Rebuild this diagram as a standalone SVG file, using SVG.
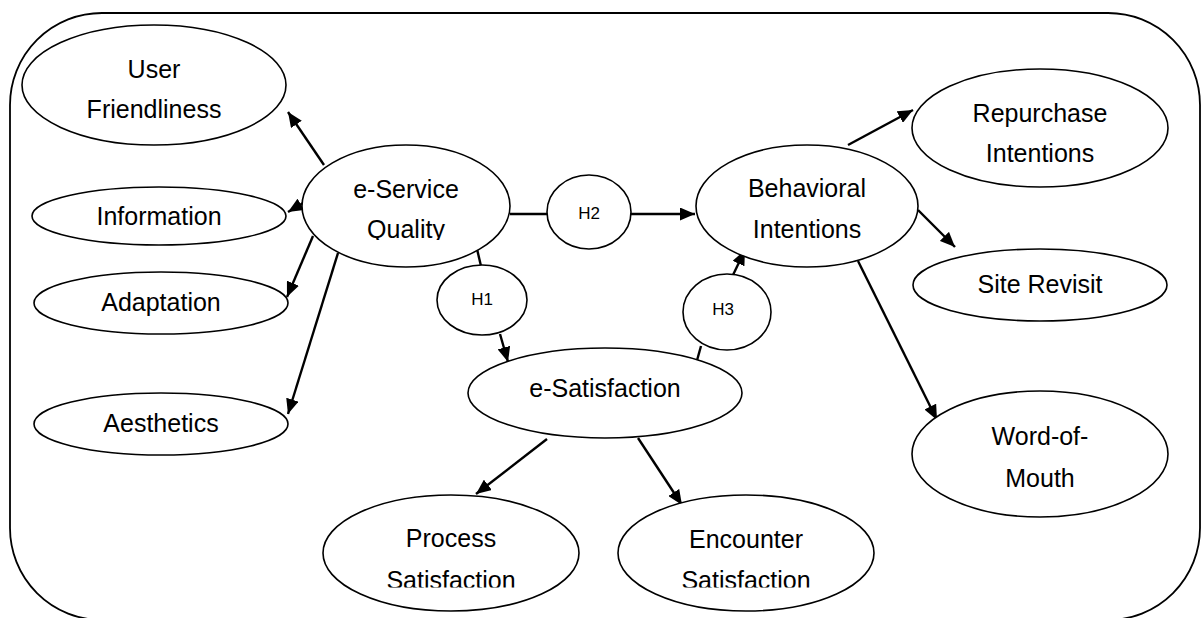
<svg xmlns="http://www.w3.org/2000/svg" width="1203" height="618" viewBox="0 0 1203 618">
<style>
.n{fill:#fff;stroke:#000;stroke-width:1.6}
.t{font-family:"Liberation Sans",Arial,sans-serif;font-size:25px;fill:#000;text-anchor:middle}
.h{font-family:"Liberation Sans",Arial,sans-serif;font-size:17px;fill:#000;text-anchor:middle}
.c{stroke:#000;stroke-width:2.4;fill:none}
.a{stroke:#000;stroke-width:2.4;fill:none;marker-end:url(#ah)}
</style>
<defs>
<marker id="ah" markerUnits="userSpaceOnUse" markerWidth="15" markerHeight="13" refX="15" refY="6.5" orient="auto">
<path d="M0,0 L15,6.5 L0,13 z" fill="#000"/>
</marker>
<clipPath id="cq"><rect x="300" y="150" width="220" height="90"/></clipPath>
<clipPath id="cp"><rect x="320" y="500" width="560" height="87.5"/></clipPath>
</defs>
<rect x="10" y="13" width="1190" height="607" rx="92" ry="92" fill="none" stroke="#000" stroke-width="1.8"/>
<g id="connectors">
<line class="a" x1="324" y1="165" x2="288" y2="112"/>
<line class="a" x1="303" y1="203" x2="288" y2="212"/>
<line class="a" x1="313" y1="236" x2="287" y2="297"/>
<line class="a" x1="338" y1="253" x2="288" y2="414"/>
<line class="c" x1="510" y1="214" x2="547" y2="214"/>
<line class="a" x1="631" y1="214" x2="695" y2="214"/>
<line class="c" x1="477" y1="249" x2="481" y2="266"/>
<line class="a" x1="500" y1="334" x2="508" y2="362"/>
<line class="c" x1="696" y1="364" x2="701" y2="346"/>
<line class="a" x1="733" y1="275" x2="745" y2="250"/>
<line class="a" x1="848" y1="145" x2="913" y2="110"/>
<line class="a" x1="918" y1="210" x2="955" y2="247"/>
<line class="a" x1="858" y1="261" x2="937" y2="420"/>
<line class="a" x1="547" y1="439" x2="476" y2="494"/>
<line class="a" x1="638" y1="438" x2="682" y2="505"/>
</g>
<g id="user-friendliness">
<ellipse class="n" cx="154" cy="85" rx="132" ry="60"/>
<text class="t" x="154" y="78">User</text>
<text class="t" x="154" y="118">Friendliness</text>
</g>
<g id="information">
<ellipse class="n" cx="159" cy="216" rx="127" ry="29"/>
<text class="t" x="159" y="225">Information</text>
</g>
<g id="adaptation">
<ellipse class="n" cx="161" cy="303" rx="127" ry="31"/>
<text class="t" x="161" y="311">Adaptation</text>
</g>
<g id="aesthetics">
<ellipse class="n" cx="161" cy="424" rx="127" ry="31"/>
<text class="t" x="161" y="432">Aesthetics</text>
</g>
<g id="e-service-quality">
<ellipse class="n" cx="406" cy="206" rx="104" ry="61"/>
<text class="t" x="406" y="198">e-Service</text>
<text class="t" x="406" y="238" clip-path="url(#cq)">Quality</text>
</g>
<g id="h2">
<ellipse class="n" cx="589" cy="212" rx="42" ry="37"/>
<text class="h" x="589" y="219">H2</text>
</g>
<g id="h1">
<ellipse class="n" cx="482" cy="300" rx="45" ry="35"/>
<text class="h" x="482" y="305">H1</text>
</g>
<g id="h3">
<ellipse class="n" cx="727" cy="312" rx="44" ry="38"/>
<text class="h" x="723" y="315">H3</text>
</g>
<g id="behavioral-intentions">
<ellipse class="n" cx="807" cy="206" rx="111" ry="61"/>
<text class="t" x="807" y="197">Behavioral</text>
<text class="t" x="807" y="238">Intentions</text>
</g>
<g id="repurchase-intentions">
<ellipse class="n" cx="1040" cy="128" rx="128" ry="59"/>
<text class="t" x="1040" y="122">Repurchase</text>
<text class="t" x="1040" y="162">Intentions</text>
</g>
<g id="site-revisit">
<ellipse class="n" cx="1040" cy="285" rx="127" ry="36"/>
<text class="t" x="1040" y="293">Site Revisit</text>
</g>
<g id="word-of-mouth">
<ellipse class="n" cx="1040" cy="454" rx="128" ry="63"/>
<text class="t" x="1040" y="445">Word-of-</text>
<text class="t" x="1040" y="487">Mouth</text>
</g>
<g id="e-satisfaction">
<ellipse class="n" cx="605" cy="393" rx="137" ry="45"/>
<text class="t" x="605" y="397">e-Satisfaction</text>
</g>
<g id="process-satisfaction">
<ellipse class="n" cx="451" cy="553" rx="128" ry="58"/>
<text class="t" x="451" y="547">Process</text>
<text class="t" x="451" y="589" clip-path="url(#cp)">Satisfaction</text>
</g>
<g id="encounter-satisfaction">
<ellipse class="n" cx="746" cy="553" rx="128" ry="58"/>
<text class="t" x="746" y="548">Encounter</text>
<text class="t" x="746" y="589" clip-path="url(#cp)">Satisfaction</text>
</g>
</svg>
